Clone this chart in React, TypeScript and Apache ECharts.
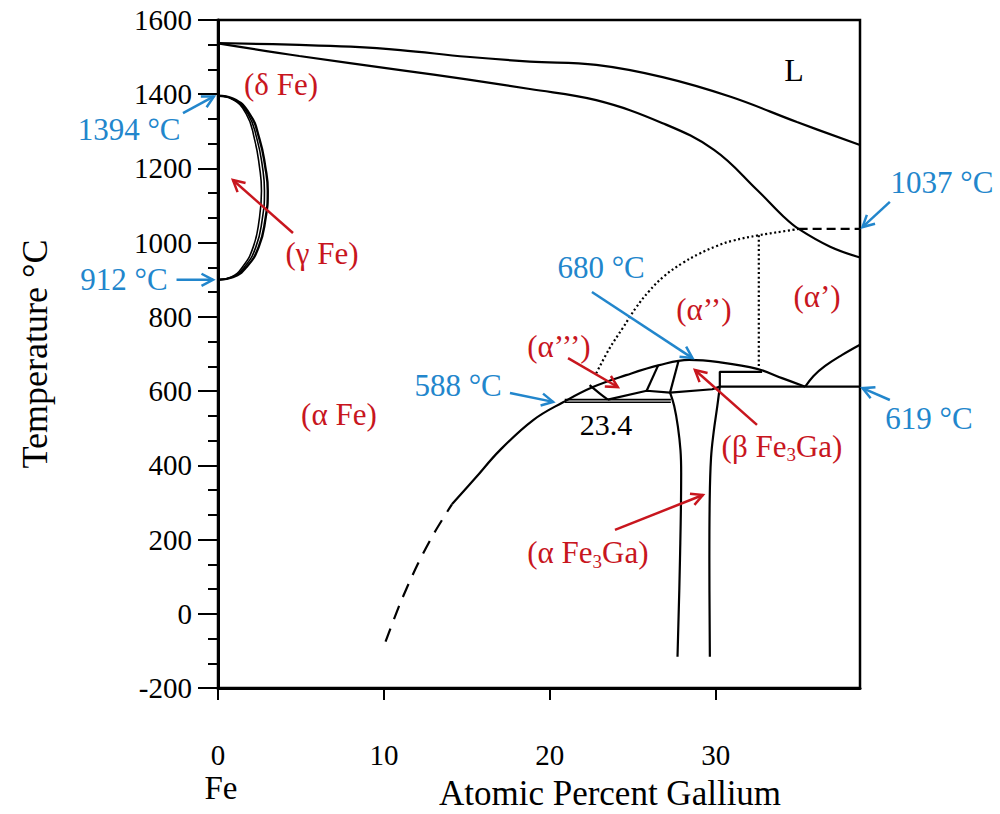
import React, { useEffect, useRef } from "react";
import * as echarts from "echarts";

type P = [number, number];

// ---------- axes ----------
const X_MAX = 38.7;
const X_TICKS = [0, 10, 20, 30];
const Y_MIN = -200;
const Y_MAX = 1600;
const Y_STEP = 200;

// ---------- phase boundaries (at.% Ga, °C) ----------
const liquidus: P[] = [[0, 1538], [4.9, 1533], [8, 1528], [11, 1519], [15, 1501], [18.8, 1488], [22.8, 1479], [26.8, 1446], [30.9, 1393], [34.9, 1325], [38.7, 1263]];
const solidus: P[] = [[0, 1537], [4.9, 1503], [11, 1465], [15, 1440], [18.8, 1414], [22.8, 1384], [26.8, 1322], [29.9, 1250], [32.5, 1142], [34.1, 1070], [35.0, 1037], [36.9, 989], [38.7, 960]];
const gammaOuter: P[] = [[0, 1396], [0.9, 1388], [1.9, 1347], [2.5, 1279], [2.85, 1204], [3.0, 1140], [2.85, 1061], [2.45, 988], [1.75, 936], [0.9, 907], [0, 900]];
const gammaMid: P[] = [[0, 1396], [0.85, 1388], [1.8, 1347], [2.35, 1279], [2.68, 1204], [2.8, 1140], [2.66, 1061], [2.28, 988], [1.62, 936], [0.84, 907], [0, 900]];
const gammaInner: P[] = [[0, 1396], [0.8, 1388], [1.7, 1347], [2.2, 1279], [2.5, 1204], [2.62, 1140], [2.48, 1061], [2.12, 988], [1.5, 936], [0.78, 907], [0, 900]];
const solvusDashed: P[] = [[10.1, -75], [11.0, 30], [12.0, 130], [13.0, 215], [14.1, 295]];
const solvus: P[] = [[14.1, 295], [15.5, 365], [17.0, 441], [19.0, 522], [20.8, 570], [22.6, 611], [24.6, 643], [26.6, 670], [28.4, 684], [30.2, 678], [32.5, 660], [34.0, 635], [35.4, 612]];
const eutectoidUpper: P[] = [[20.9, 577], [27.3, 577]];
const eutectoidLower: P[] = [[20.9, 570], [27.3, 570]];
const alpha3Arc: P[] = [[22.4, 616], [23.0, 594], [23.5, 577]];
const alpha3Base: P[] = [[23.5, 577], [25.84, 601], [27.25, 596], [29.8, 605], [30.25, 612]];
const tieSeg1: P[] = [[25.84, 601], [26.54, 670]];
const tieSeg2: P[] = [[27.25, 596], [27.75, 680]];
const fe3gaLeft: P[] = [[27.25, 596], [27.5, 560], [27.72, 505], [27.88, 440], [27.92, 380], [27.85, 150], [27.7, -116]];
const fe3gaRight: P[] = [[30.25, 612], [30.1, 560], [29.88, 490], [29.72, 420], [29.64, 307], [29.62, 150], [29.65, -116]];
const boxLine: P[] = [[30.25, 612], [30.25, 652], [32.8, 652]];
const line619: P[] = [[30.25, 612], [38.7, 612]];
const alphaPrime: P[] = [[35.4, 612], [35.9, 641], [36.6, 668], [37.6, 697], [38.7, 725]];
const orderDotted: P[] = [[22.8, 648], [23.6, 715], [24.4, 770], [25.2, 825], [26.0, 870], [26.9, 910], [28.0, 945], [29.0, 970], [30.0, 990], [31.0, 1005], [32.6, 1020], [34.0, 1030], [35.0, 1037]];
const orderDottedVert: P[] = [[32.6, 1020], [32.6, 660]];
const dashed1037: P[] = [[35.0, 1037], [38.7, 1037]];

// ---------- annotations (data coordinates) ----------
const blueArrows: [P, P][] = [
  [[-2.11, 1349], [-0.25, 1394]],
  [[-2.5, 900], [-0.3, 900]],
  [[40.5, 1110], [38.85, 1042]],
  [[40.5, 576], [38.85, 608]],
  [[22.54, 867], [28.6, 689]],
  [[17.6, 595], [20.2, 571]],
];
const redArrows: [P, P][] = [
  [[4.52, 1026], [0.9, 1169]],
  [[21.1, 689], [24.1, 611]],
  [[32.49, 509], [28.75, 657]],
  [[23.93, 226], [29.23, 320]],
];
const blueLabels: [string, number, number][] = [
  ["1394 °C", -5.36, 1306],
  ["912 °C", -5.67, 900],
  ["1037 °C", 43.64, 1163],
  ["619 °C", 42.86, 525],
  ["680 °C", 23.09, 934],
  ["588 °C", 14.47, 614],
];
const redLabels: [string, number, number][] = [
  ["(δ Fe)", 3.8, 1425],
  ["(γ Fe)", 6.27, 972],
  ["(α Fe)", 7.29, 536],
  ["(α\u2019\u2019)", 29.29, 821],
  ["(α\u2019)", 36.11, 856],
  ["(α\u2019\u2019\u2019)", 20.55, 719],
];
const fe3gaLabels: [string, number, number][] = [
  ["β", 34.0, 452],
  ["α", 22.3, 164],
];
const blackLabels: [string, number, number, number][] = [
  ["L", 34.72, 1465, 32],
  ["23.4", 23.39, 511, 30],
  ["Fe", 0.18, -470, 33],
  ["Atomic Percent Gallium", 23.63, -484, 35],
];

const FONT = "Liberation Serif, serif";
const BLUE = "#2286cc";
const RED = "#c8161e";

function curve(data: P[], smooth: number | boolean = 0.4, type: any = "solid", width = 2.2) {
  return {
    type: "line",
    data,
    showSymbol: false,
    symbol: "none",
    smooth,
    silent: true,
    lineStyle: { color: "#000", width, type, cap: "butt" },
    z: 3,
  };
}

export default function App() {
  const ref = useRef<HTMLDivElement>(null);
  useEffect(() => {
    document.body.style.margin = "0";
    const el = ref.current!;
    const chart = echarts.init(el, null, { renderer: "svg" });
    chart.setOption({
      animation: false,
      backgroundColor: "#fff",
      textStyle: { fontFamily: FONT },
      grid: { left: 218, top: 20, right: 140, bottom: 126, show: true, borderColor: "#000", borderWidth: 2.5 },
      xAxis: {
        type: "value",
        min: 0,
        max: X_MAX,
        interval: 10,
        axisLine: { show: true, onZero: false, lineStyle: { color: "#000", width: 3 } },
        axisTick: { show: true, inside: false, length: 12, customValues: X_TICKS, lineStyle: { color: "#000", width: 2 } },
        axisLabel: { customValues: X_TICKS, fontSize: 29, fontFamily: FONT, color: "#000", margin: 52, formatter: (v: number) => String(v) },
        splitLine: { show: false },
      },
      yAxis: {
        type: "value",
        min: Y_MIN,
        max: Y_MAX,
        interval: Y_STEP,
        axisLine: { show: true, lineStyle: { color: "#000", width: 3 } },
        axisTick: { show: true, inside: false, length: 20, lineStyle: { color: "#000", width: 2 } },
        minorTick: { show: true, splitNumber: 3, length: 10, lineStyle: { color: "#000", width: 2 } },
        axisLabel: { fontSize: 29, fontFamily: FONT, color: "#000", margin: 26, formatter: (v: number) => String(v) },
        splitLine: { show: false },
        minorSplitLine: { show: false },
        name: "Temperature °C",
        nameLocation: "middle",
        nameGap: 165,
        nameTextStyle: { fontSize: 36, fontFamily: FONT, color: "#000" },
      },
      series: [
        curve(liquidus),
        curve(solidus),
        curve(gammaOuter, 0.5, "solid", 2.4),
        curve(gammaMid, 0.5, "solid", 1.6),
        curve(gammaInner, 0.5, "solid", 1.6),
        curve(solvusDashed, 0.3, [14, 10]),
        curve(solvus, 0.4),
        curve(eutectoidUpper, false, "solid", 1.6),
        curve(eutectoidLower, false, "solid", 1.6),
        curve(alpha3Arc, 0.4),
        curve(alpha3Base, false),
        curve(tieSeg1, false),
        curve(tieSeg2, false),
        curve(fe3gaLeft, 0.4),
        curve(fe3gaRight, 0.4),
        curve(boxLine, false),
        curve(line619, false),
        curve(alphaPrime, 0.4),
        curve(orderDotted, 0.4, [2, 2.6]),
        curve(orderDottedVert, false, [2, 2.6]),
        curve(dashed1037, false, [9, 5]),
      ],
    });

    const toPx = (p: P) => chart.convertToPixel({ xAxisIndex: 0, yAxisIndex: 0 }, p) as number[];
    const els: any[] = [];

    const arrow = (from: P, to: P, color: string) => {
      const [x1, y1] = toPx(from);
      const [x2, y2] = toPx(to);
      const ang = Math.atan2(y2 - y1, x2 - x1);
      const L = 13;
      const a = Math.PI / 6.5;
      const w1 = [x2 - L * Math.cos(ang - a), y2 - L * Math.sin(ang - a)];
      const w2 = [x2 - L * Math.cos(ang + a), y2 - L * Math.sin(ang + a)];
      els.push({ type: "line", shape: { x1, y1, x2, y2 }, style: { stroke: color, lineWidth: 2.5 }, z: 10 });
      els.push({ type: "polyline", shape: { points: [w1, [x2, y2], w2] }, style: { stroke: color, fill: "none", lineWidth: 2.5 }, z: 10 });
    };
    const label = (text: string, x: number, y: number, color: string, size: number) => {
      const [px, py] = toPx([x, y]);
      els.push({
        type: "text",
        x: px,
        y: py,
        z: 11,
        style: { text, fill: color, fontSize: size, fontFamily: FONT, align: "center", verticalAlign: "middle", textAlign: "center", textVerticalAlign: "middle" },
      });
    };

    blueArrows.forEach(([f, t]) => arrow(f, t, BLUE));
    redArrows.forEach(([f, t]) => arrow(f, t, RED));
    blueLabels.forEach(([t, x, y]) => label(t, x, y, BLUE, 31));
    redLabels.forEach(([t, x, y]) => label(t, x, y, RED, 31));
    blackLabels.forEach(([t, x, y, s]) => label(t, x, y, "#000", s));
    fe3gaLabels.forEach(([g, x, y]) => {
      const [px, py] = toPx([x, y]);
      els.push({
        type: "text",
        x: px,
        y: py,
        z: 11,
        style: {
          text: `{m|(${g} Fe}{s|3}{m|Ga)}`,
          align: "center",
          verticalAlign: "middle",
          textAlign: "center",
          textVerticalAlign: "middle",
          rich: {
            m: { fontSize: 31, fontFamily: FONT, fill: RED, lineHeight: 36 },
            s: { fontSize: 19, fontFamily: FONT, fill: RED, lineHeight: 19, verticalAlign: "bottom" },
          },
        },
      });
    });

    chart.setOption({ graphic: { elements: els } });
    return () => chart.dispose();
  }, []);
  return <div ref={ref} style={{ width: 1000, height: 814 }} />;
}
